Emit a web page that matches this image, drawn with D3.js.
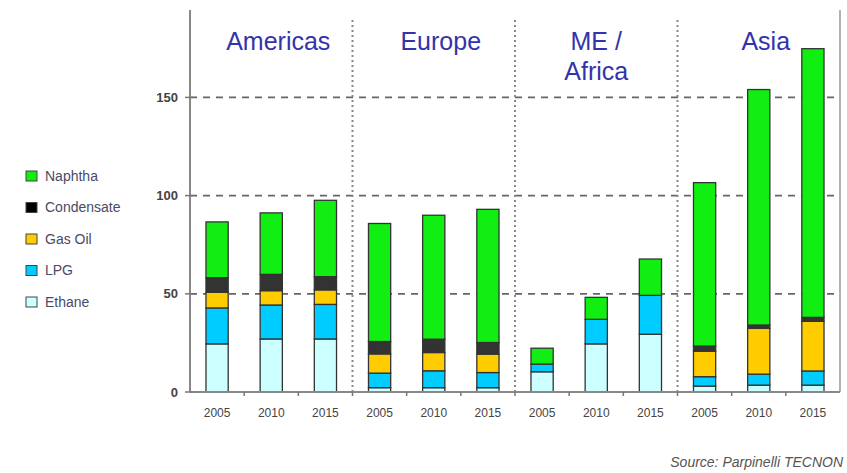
<!DOCTYPE html>
<html>
<head>
<meta charset="utf-8">
<script src="https://cdn.jsdelivr.net/npm/d3@7"></script>
<style>
  body { margin: 0; background: #fff; }
  svg { font-family: "Liberation Sans", Arial, sans-serif; }
</style>
</head>
<body>
<div id="chart"></div>
<script>
// regions and years
let regions = ["Americas", "Europe", "ME / Africa", "Asia"];
let years = ["2005", "2010", "2015"];
let feeds = ["Ethane", "LPG", "Gas Oil", "Condensate", "Naphtha"];

// values per feedstock, 12 bars (region x year)
let ethane     = [24.5, 27.0, 27.0,  2.2,  2.2,  2.2, 10.3, 24.5, 29.4,  3.0,   3.5,   3.5];
let lpg        = [18.3, 17.3, 17.6,  7.4,  8.6,  7.7,  3.9, 12.5, 19.8,  4.8,   5.6,   7.2];
let gasOil     = [ 8.0,  7.3,  7.4,  9.8,  9.3,  9.4,  0.0,  0.0,  0.0, 13.0,  23.3,  25.3];
let condensate = [ 7.4,  8.3,  6.7,  6.3,  6.8,  5.9,  0.0,  0.0,  0.0,  2.6,   1.7,   2.0];
let naphtha    = [28.4, 31.3, 38.9, 60.1, 63.1, 67.8,  8.1, 11.2, 18.5, 83.2, 119.9, 136.8];

let yTicks = [0, 50, 100, 150];

let colors = {
  "Ethane": "#ccffff",
  "LPG": "#00ccff",
  "Gas Oil": "#ffcc00",
  "Condensate": "#333333",
  "Naphtha": "#11ee11"
};

let width = 847;
let height = 473;
let mLeft = 190, mRight = 840, mTop = 10, mBottom = 392;

let rows = [];
let series = [ethane, lpg, gasOil, condensate, naphtha];
regions.forEach(function(r, ri) {
  years.forEach(function(y, yi) {
    let i = ri * 3 + yi;
    let row = { key: r + "|" + y, year: y };
    feeds.forEach(function(f, fi) { row[f] = series[fi][i]; });
    rows.push(row);
  });
});

let svg = d3.select("#chart").append("svg")
  .attr("width", width)
  .attr("height", height);

let x = d3.scaleBand()
  .domain(rows.map(function(d) { return d.key; }))
  .range([mLeft, mRight])
  .paddingInner(0.59)
  .paddingOuter(0.295);

let y = d3.scaleLinear()
  .domain([0, 194.5])
  .range([mBottom, mTop]);

let step = (mRight - mLeft) / rows.length;

// dashed grid lines
svg.append("g").selectAll("line")
  .data(yTicks.filter(function(d) { return d > 0; }))
  .enter().append("line")
  .attr("x1", mLeft).attr("x2", mRight)
  .attr("y1", function(d) { return y(d); })
  .attr("y2", function(d) { return y(d); })
  .attr("stroke", "#666")
  .attr("stroke-width", 1.8)
  .attr("stroke-dasharray", "7,6");

// dotted region dividers
svg.append("g").selectAll("line")
  .data([1, 2, 3])
  .enter().append("line")
  .attr("x1", function(d) { return mLeft + d * 3 * step; })
  .attr("x2", function(d) { return mLeft + d * 3 * step; })
  .attr("y1", 20).attr("y2", mBottom)
  .attr("stroke", "#888")
  .attr("stroke-width", 2)
  .attr("stroke-dasharray", "2,3");

// stacked bars
let stack = d3.stack().keys(feeds);
let layers = stack(rows);

svg.append("g").selectAll("g")
  .data(layers)
  .enter().append("g")
  .attr("fill", function(d) { return colors[d.key]; })
  .selectAll("rect")
  .data(function(d) { return d.filter(function(s) { return s[1] - s[0] > 0; }); })
  .enter().append("rect")
  .attr("x", function(d) { return x(d.data.key); })
  .attr("width", x.bandwidth())
  .attr("y", function(d) { return y(d[1]); })
  .attr("height", function(d) { return y(d[0]) - y(d[1]); })
  .attr("stroke", "#333")
  .attr("stroke-width", 1.3);

// axes lines
svg.append("line")
  .attr("x1", mLeft).attr("x2", mLeft)
  .attr("y1", mTop).attr("y2", mBottom)
  .attr("stroke", "#888").attr("stroke-width", 2);
svg.append("line")
  .attr("x1", mRight).attr("x2", mRight)
  .attr("y1", mTop).attr("y2", mBottom)
  .attr("stroke", "#999").attr("stroke-width", 1.5);
svg.append("line")
  .attr("x1", mLeft).attr("x2", mRight)
  .attr("y1", mBottom).attr("y2", mBottom)
  .attr("stroke", "#888").attr("stroke-width", 2);

// y ticks and labels
let yg = svg.append("g");
yg.selectAll("line")
  .data(yTicks)
  .enter().append("line")
  .attr("x1", mLeft - 5).attr("x2", mLeft + 3)
  .attr("y1", function(d) { return y(d); })
  .attr("y2", function(d) { return y(d); })
  .attr("stroke", "#777").attr("stroke-width", 1.5);
yg.selectAll("text")
  .data(yTicks)
  .enter().append("text")
  .attr("x", mLeft - 12)
  .attr("y", function(d) { return y(d); })
  .attr("dy", "0.35em")
  .attr("text-anchor", "end")
  .attr("font-size", 13)
  .attr("font-weight", "bold")
  .attr("fill", "#444")
  .text(function(d) { return d; });

// x ticks between bars
svg.append("g").selectAll("line")
  .data(d3.range(1, 12))
  .enter().append("line")
  .attr("x1", function(d) { return mLeft + d * step; })
  .attr("x2", function(d) { return mLeft + d * step; })
  .attr("y1", mBottom).attr("y2", mBottom + 4)
  .attr("stroke", "#777").attr("stroke-width", 1.5);

// x labels
svg.append("g").selectAll("text")
  .data(rows)
  .enter().append("text")
  .attr("x", function(d) { return x(d.key) + x.bandwidth() / 2; })
  .attr("y", 417)
  .attr("text-anchor", "middle")
  .attr("font-size", 12)
  .attr("fill", "#444")
  .text(function(d) { return d.year; });

// region titles
let titleLines = [["Americas"], ["Europe"], ["ME /", "Africa"], ["Asia"]];
let tg = svg.append("g");
titleLines.forEach(function(lines, i) {
  let cx = mLeft + (i * 3 + 1.5) * step + (i == 2 ? 0 : 7);
  lines.forEach(function(t, j) {
    tg.append("text")
      .attr("x", cx)
      .attr("y", 50 + j * 30)
      .attr("text-anchor", "middle")
      .attr("font-size", 25)
      .attr("fill", "#3333aa")
      .text(t);
  });
});

// legend
let legend = svg.append("g");
let legendFeeds = feeds.slice().reverse();
legend.selectAll("rect")
  .data(legendFeeds)
  .enter().append("rect")
  .attr("x", 26)
  .attr("y", function(d, i) { return 171 + i * 31.5; })
  .attr("width", 11).attr("height", 10)
  .attr("fill", function(d) { return colors[d] == "#333333" ? "#000" : colors[d]; })
  .attr("stroke", "#444").attr("stroke-width", 1);
legend.selectAll("text")
  .data(legendFeeds)
  .enter().append("text")
  .attr("x", 45)
  .attr("y", function(d, i) { return 176 + i * 31.5; })
  .attr("dy", "0.35em")
  .attr("font-size", 14)
  .attr("fill", "#4a4a66")
  .text(function(d) { return d; });

// source
svg.append("text")
  .attr("x", 843)
  .attr("y", 467)
  .attr("text-anchor", "end")
  .attr("font-size", 14)
  .attr("font-style", "italic")
  .attr("fill", "#555")
  .text("Source: Parpinelli TECNON");
</script>
</body>
</html>
